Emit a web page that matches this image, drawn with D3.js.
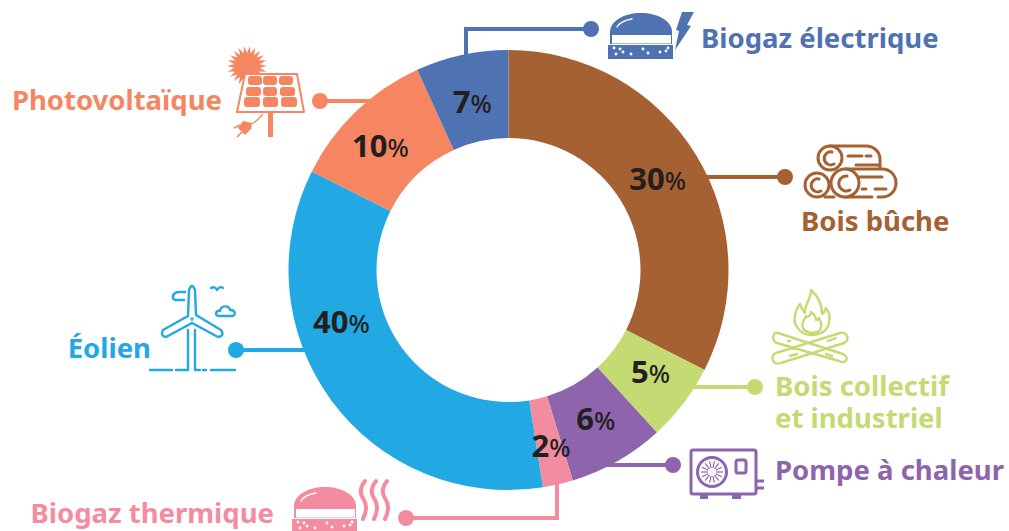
<!DOCTYPE html>
<html lang="fr">
<head>
<meta charset="utf-8">
<title>Mix énergies renouvelables</title>
<script src="https://cdn.jsdelivr.net/npm/d3@7"></script>
<style>
  html, body { margin: 0; padding: 0; background: #fff; overflow: hidden; }
  svg { display: block; }
  text { font-family: "Noto Sans", sans-serif; font-weight: 700; }
  .ico { fill: none; stroke-linecap: round; stroke-linejoin: round; }
</style>
</head>
<body>
<div id="chart"></div>
<script>
// Données
const categories = ["Bois bûche", "Bois collectif et industriel", "Pompe à chaleur", "Biogaz thermique", "Éolien", "Photovoltaïque", "Biogaz électrique"];
const percentLabels = [30, 5, 6, 2, 40, 10, 7];
// la part dessinée ne suit pas les étiquettes (en degrés)
const drawnDegrees = [117, 20.6, 25.4, 8, 125.6, 38.9, 24.5];
const colors = ["#A56132", "#C3DB72", "#8E65AD", "#F48CA0", "#22A8E2", "#F68662", "#4F72B2"];

const width = 1009, height = 531;
const cx = 508.5, cy = 270, outerR = 220, innerR = 132, labelR = 176;

const svg = d3.select("#chart").append("svg")
    .attr("width", width)
    .attr("height", height);

const pie = d3.pie().sort(null).value(d => d);
const arc = d3.arc().innerRadius(innerR).outerRadius(outerR);
const labelArc = d3.arc().innerRadius(labelR).outerRadius(labelR);
const arcs = pie(drawnDegrees);

// Traits de rappel (derrière l'anneau)
const callouts = [
    { c: 0, pts: [[700, 177], [785, 177]], dot: [785, 177] },
    { c: 1, pts: [[685, 387], [755, 387]], dot: [755, 387] },
    { c: 2, pts: [[590, 465], [673, 465]], dot: [673, 465] },
    { c: 3, pts: [[557, 470], [557, 518], [406, 518]], dot: [406, 518] },
    { c: 4, pts: [[320, 350], [236, 350]], dot: [236, 350] },
    { c: 5, pts: [[380, 101], [320, 101]], dot: [320, 101] },
    { c: 6, pts: [[466, 70], [466, 29], [591, 29]], dot: [591, 29] }
];
const line = d3.line();
svg.selectAll(".callout").data(callouts).enter().append("path")
    .attr("class", "callout")
    .attr("d", d => line(d.pts))
    .attr("fill", "none")
    .attr("stroke", d => colors[d.c])
    .attr("stroke-width", 4);
svg.selectAll(".dot").data(callouts).enter().append("circle")
    .attr("class", "dot")
    .attr("cx", d => d.dot[0])
    .attr("cy", d => d.dot[1])
    .attr("r", 8)
    .attr("fill", d => colors[d.c]);

// Anneau
const ring = svg.append("g").attr("transform", `translate(${cx},${cy})`);
ring.selectAll("path").data(arcs).enter().append("path")
    .attr("d", arc)
    .attr("fill", (d, i) => colors[i]);

// Pourcentages (petits décalages à la main, le 40 % est remonté sur l'original)
const nudge = [[-1, 1], [2, -5], [0, -4], [3, 4], [-25, -52], [-6, 3], [1, 4]];
const pct = ring.selectAll("text").data(arcs).enter().append("text")
    .attr("transform", (d, i) => {
        const p = labelArc.centroid(d), n = nudge[i];
        return `translate(${p[0] + n[0]},${p[1] + n[1]})`;
    })
    .attr("text-anchor", "middle")
    .attr("dy", "0.36em")
    .attr("fill", "#231F20")
    .style("font-size", "31px");
pct.append("tspan").text((d, i) => percentLabels[i]);
pct.append("tspan").style("font-size", "25px").style("font-weight", 500).text("%");

// Libellés
const nameRows = [
    { c: 0, lines: ["Bois bûche"], x: 801, y: 231, anchor: "start" },
    { c: 1, lines: ["Bois collectif", "et industriel"], x: 775, y: 396, anchor: "start" },
    { c: 2, lines: ["Pompe à chaleur"], x: 775, y: 480, anchor: "start" },
    { c: 3, lines: ["Biogaz thermique"], x: 274, y: 523, anchor: "end" },
    { c: 4, lines: ["Éolien"], x: 151, y: 358, anchor: "end" },
    { c: 5, lines: ["Photovoltaïque"], x: 222, y: 110, anchor: "end" },
    { c: 6, lines: ["Biogaz électrique"], x: 701, y: 48, anchor: "start" }
];
nameRows.forEach(r => {
    const t = svg.append("text")
        .attr("x", r.x).attr("y", r.y)
        .attr("text-anchor", r.anchor)
        .attr("fill", colors[r.c])
        .style("font-size", "27.5px");
    r.lines.forEach((l, i) => t.append("tspan").attr("x", r.x).attr("dy", i ? 32 : 0).text(l));
});

// Pictos
function biogaz(g, col) {
    g.append("path").attr("fill", col)
        .attr("d", "M2,19 C2,8 16,0 33,0 C50,0 64,8 64,19 L64,21 L2,21 Z");
    g.append("path").attr("fill", "none").attr("stroke", "#fff").attr("stroke-width", 1.4).attr("stroke-linecap", "round")
        .attr("d", "M9,14 C12,9 17,7 24,6");
    g.append("rect").attr("x", 2).attr("y", 19).attr("width", 62).attr("height", 12).attr("fill", col);
    g.append("rect").attr("x", 4).attr("y", 22).attr("width", 59).attr("height", 8.5).attr("fill", "#fff");
    g.append("path").attr("fill", col).attr("d", "M0,32 H65 V46 H0 Z");
    const dots = [[6, 35], [8, 41], [15, 39], [12, 36], [23, 41], [35, 36], [40, 40], [52, 39], [58, 38], [60, 35]];
    g.selectAll("circle").data(dots).enter().append("circle")
        .attr("cx", d => d[0]).attr("cy", d => d[1]).attr("r", 1.4).attr("fill", "#fff");
}

const gElec = svg.append("g").attr("transform", "translate(608,13)");
biogaz(gElec, colors[6]);
svg.append("path").attr("fill", colors[6])
    .attr("d", "M682,12 L694,12 L687,25 L691,26 L675,50 L679,31 L676,30 Z");

const gTherm = svg.append("g").attr("transform", "translate(292,487)");
biogaz(gTherm, colors[3]);
svg.append("path").attr("fill", "none").attr("stroke", colors[3]).attr("stroke-width", 4).attr("stroke-linecap", "round")
    .attr("d", "M365,481 C359,489 360,494 364,500 C368,507 366,513 363,519 M376,481 C370,489 371,494 375,500 C379,507 377,513 374,519 M387,481 C381,489 382,494 386,500 C390,507 388,513 385,519");

// Photovoltaïque
const sol = svg.append("g");
const sunPts = d3.range(44).map(i => {
    const a = i * Math.PI / 22, r = i % 2 ? 13 : 20;
    return [247 + r * Math.cos(a), 66 + r * Math.sin(a)];
});
sol.append("polygon").attr("points", sunPts.map(p => p.join(",")).join(" ")).attr("fill", colors[5]);
sol.append("path").attr("d", "M245,74 L297,74 L304,112 L237,112 Z").attr("fill", "#fff").attr("stroke", colors[5]).attr("stroke-width", 2).attr("stroke-linejoin", "round");
const cellRows = [[248, 76, 14, 9], [263, 76, 14, 9], [279, 76, 14, 9], [246, 87, 15, 9], [263, 87, 14, 9], [280, 87, 15, 9], [244, 97, 16, 10], [263, 97, 15, 10], [281, 97, 16, 10]];
sol.selectAll(".cell").data(cellRows).enter().append("rect")
    .attr("class", "cell")
    .attr("x", d => d[0]).attr("y", d => d[1]).attr("width", d => d[2]).attr("height", d => d[3])
    .attr("rx", 3).attr("fill", colors[5]);
sol.append("rect").attr("x", 268).attr("y", 113).attr("width", 5).attr("height", 24).attr("fill", colors[5]);
sol.append("path").attr("fill", "none").attr("stroke", colors[5]).attr("stroke-width", 1.2).attr("d", "M263,114 C258,120 256,122 251,124");
sol.append("path").attr("fill", colors[5]).attr("d", "M252,123 L243,121 L238,128 L245,135 L251,129 Z");
sol.append("path").attr("fill", "none").attr("stroke", colors[5]).attr("stroke-width", 1.6).attr("d", "M240,125 L234,128 M242,132 L237,137");

// Bois bûche
const logs = svg.append("g").attr("class", "ico").attr("stroke", colors[0]).attr("stroke-width", 3);
logs.append("path").attr("d", "M830,146 H866 C874,146 880,152 880,159 V168 M848,156 H862 M866,156 H871 M856,165 H878");
logs.append("circle").attr("cx", 830).attr("cy", 158).attr("r", 12).attr("fill", "#fff");
logs.append("path").attr("d", "M832,152 A6.5,6.5 0 1 0 834,164");
logs.append("path").attr("d", "M845,169 H882 C890,169 896,175 896,183 C896,191 890,197 882,197 H878 M872,197 H845 M858,177 H882 M862,189 H866 M875,189 H886 M825,197 H834");
logs.append("circle").attr("cx", 817).attr("cy", 185).attr("r", 12).attr("fill", "#fff");
logs.append("path").attr("d", "M819,179 A6.5,6.5 0 1 0 821,191");
logs.append("circle").attr("cx", 845).attr("cy", 183).attr("r", 14).attr("fill", "#fff");
logs.append("path").attr("d", "M847,176 A7.5,7.5 0 1 0 850,190");

// Bois collectif
const feu = svg.append("g").attr("class", "ico").attr("stroke", colors[1]).attr("stroke-width", 2.4);
feu.append("path").attr("d", "M811,290 C811,300 804,305 805,313 C802,310 801,307 800,304 C794,312 793,322 797,327 C800,332 805,335 811,335 C820,335 827,331 829,323 C831,316 828,310 826,308 C825,311 824,313 822,314 C822,305 818,296 811,290 Z");
feu.append("path").attr("d", "M811,312 C811,316 807,318 806,316 C803,321 801,325 803,328 C805,333 816,335 820,330 C822,326 821,321 819,318 C818,320 817,320 816,320 C816,317 814,314 811,312 Z");
feu.append("path").attr("d", "M778,333 L843,354 C850,357 846,365 839,361 L777,343 C771,341 773,331 778,333 Z M776,353 L840,333 C848,331 850,341 844,343 L781,363 C773,366 769,356 776,353 Z M788,341 H790 M828,341 L836,338 M790,356 L797,354 M826,354 L832,356");

// Pompe à chaleur
const pac = svg.append("g").attr("stroke", colors[2]).attr("fill", "none").attr("stroke-width", 3);
pac.append("rect").attr("x", 691).attr("y", 450).attr("width", 65).attr("height", 44).attr("rx", 2);
pac.append("circle").attr("cx", 712).attr("cy", 472).attr("r", 14.5);
pac.append("rect").attr("x", 736).attr("y", 460).attr("width", 10).attr("height", 13).attr("rx", 2);
pac.append("path").attr("d", "M757,481 H764 M757,488 H764");
const blades = d3.range(14).map(i => i * 2 * Math.PI / 14);
pac.selectAll(".blade").data(blades).enter().append("line")
    .attr("class", "blade")
    .attr("stroke-width", 1.2)
    .attr("x1", d => 712 + 4 * Math.cos(d)).attr("y1", d => 472 + 4 * Math.sin(d))
    .attr("x2", d => 712 + 11 * Math.cos(d)).attr("y2", d => 472 + 11 * Math.sin(d));
pac.append("path").attr("fill", colors[2]).attr("stroke", "none").attr("d", "M700,495 H708 V499 H700 Z M732,495 H741 V499 H732 Z");

// Éolien
const eol = svg.append("g").attr("class", "ico").attr("stroke", colors[4]).attr("stroke-width", 2.4);
eol.append("path").attr("d", "M188,316 L189,290 Q192,282 195,290 L196,315 L221,330 Q225,336 218,337 L192,323 L166,337 Q160,336 163,330 Z");
eol.append("path").attr("d", "M188,330 V370 M195,330 V370 M150,370 H172 M176,370 H188 M195,370 H200 M203,370 H206 M211,370 H235");
eol.append("path").attr("d", "M185,292 H179 C173,292 171,298 175,300 H184");
eol.append("path").attr("d", "M219,316 C214,316 216,310 220,311 C221,305 229,305 230,310 C236,310 236,316 232,316 Z");
eol.append("path").attr("d", "M211,288 C214,286 216,288 217,290 C218,288 221,286 223,288");
eol.append("circle").attr("cx", 192).attr("cy", 319).attr("r", 0.6);

</script>
</body>
</html>
